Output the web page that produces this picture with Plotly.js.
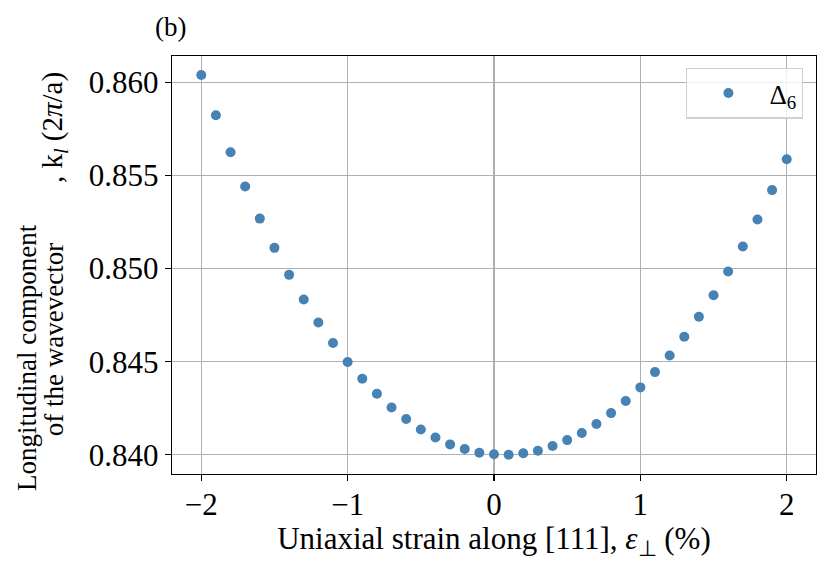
<!DOCTYPE html>
<html>
<head>
<meta charset="utf-8">
<script src="https://cdn.plot.ly/plotly-3.0.1.min.js"></script>
<style>
  html, body { margin: 0; padding: 0; background: #fff; }
  #graph { width: 830px; height: 568px; }
</style>
</head>
<body>
<div id="graph"></div>
<script>
// strain (%) and longitudinal k (2π/a)
var strain = [-2.0, -1.9, -1.8, -1.7, -1.6, -1.5, -1.4, -1.3, -1.2, -1.1, -1.0,
              -0.9, -0.8, -0.7, -0.6, -0.5, -0.4, -0.3, -0.2, -0.1, 0.0,
               0.1, 0.2, 0.3, 0.4, 0.5, 0.6, 0.7, 0.8, 0.9, 1.0,
               1.1, 1.2, 1.3, 1.4, 1.5, 1.6, 1.7, 1.8, 1.9, 2.0];
var kLong = [0.86039, 0.85823, 0.85624, 0.85440, 0.85268, 0.85111, 0.84966, 0.84834, 0.84710, 0.84600, 0.84498,
             0.84408, 0.84328, 0.84254, 0.84192, 0.84136, 0.84093, 0.84056, 0.84031, 0.84011, 0.84003,
             0.84000, 0.84008, 0.84022, 0.84047, 0.84079, 0.84117, 0.84165, 0.84224, 0.84289, 0.84362,
             0.84444, 0.84533, 0.84634, 0.84741, 0.84857, 0.84984, 0.85118, 0.85263, 0.85421, 0.85587];
var xTicks = [-2, -1, 0, 1, 2];
var yTicks = [0.840, 0.845, 0.850, 0.855, 0.860];
var yTickText = ['0.840', '0.845', '0.850', '0.855', '0.860'];

var serif = 'Liberation Serif, Times New Roman, serif';

var data = [{
    x: strain,
    y: kLong,
    type: 'scatter',
    mode: 'markers',
    name: 'Δ<sub>6</sub>',
    marker: { color: '#4682b4', size: 10 }
}];

var axisCommon = {
    showline: true, mirror: true, linecolor: '#000', linewidth: 1.3,
    ticks: 'outside', ticklen: 6, tickwidth: 1.3, tickcolor: '#000',
    showgrid: true, gridcolor: '#b0b0b0', gridwidth: 1.3,
    zeroline: false,
    tickfont: { family: serif, size: 31, color: '#000' }
};

var layout = {
    width: 830, height: 568,
    margin: { l: 172, r: 14, t: 56, b: 94 },
    paper_bgcolor: '#fff', plot_bgcolor: '#fff',
    font: { family: serif, color: '#000' },
    showlegend: true,
    legend: {
        x: 0.98, y: 0.972, xanchor: 'right', yanchor: 'top',
        bgcolor: 'rgba(255,255,255,0.8)', bordercolor: '#d0d0d0', borderwidth: 1.3,
        font: { family: serif, size: 27 },
        itemwidth: 72
    },
    xaxis: Object.assign({}, axisCommon, {
        range: [-2.2, 2.2],
        tickvals: xTicks,
        ticklabelstandoff: -4,
        title: { text: 'Uniaxial strain along [111], <i>ε</i><sub>⊥</sub> (%)',
                 font: { family: serif, size: 31 }, standoff: 0 }
    }),
    yaxis: Object.assign({}, axisCommon, {
        range: [0.83897, 0.86141],
        tickvals: yTicks,
        ticktext: yTickText
    }),
    annotations: [
        { text: 'Longitudinal component', xref: 'paper', yref: 'paper',
          x: -0.226, y: 0.2787, textangle: -90, showarrow: false,
          xanchor: 'center', yanchor: 'middle', font: { family: serif, size: 27 } },
        { text: 'of the wavevector', xref: 'paper', yref: 'paper',
          x: -0.182, y: 0.3218, textangle: -90, showarrow: false,
          xanchor: 'center', yanchor: 'middle', font: { family: serif, size: 27 } },
        { text: ', k<sub><i>l</i></sub> (2<i>π</i>/a)', xref: 'paper', yref: 'paper',
          x: -0.183, y: 0.828, textangle: -90, showarrow: false,
          xanchor: 'center', yanchor: 'middle', font: { family: serif, size: 29 } },
        { text: '(b)', xref: 'paper', yref: 'paper',
          x: -0.0295, y: 1.069, showarrow: false,
          xanchor: 'left', yanchor: 'middle', font: { family: serif, size: 27 } }
    ]
};

Plotly.newPlot('graph', data, layout, { displayModeBar: false, staticPlot: true });
</script>
</body>
</html>
